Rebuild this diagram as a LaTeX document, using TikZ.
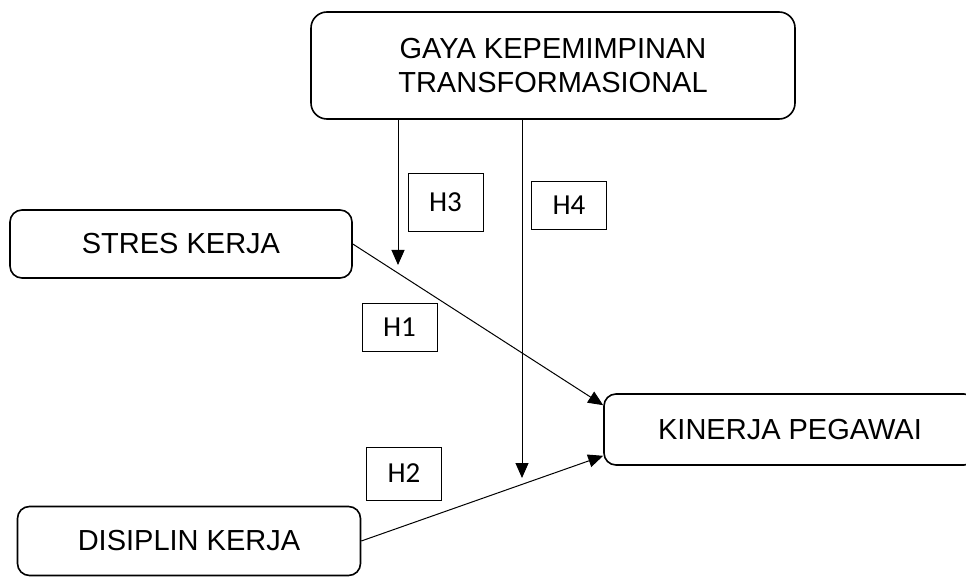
\documentclass[tikz,border=0pt]{standalone}
\usepackage{fontspec}
\setmainfont{Liberation Sans}
\newfontfamily\hypfont{Carlito}
\usetikzlibrary{arrows.meta,positioning}

\begin{document}
\begin{tikzpicture}[x=1pt, y=-1pt, >={Triangle[length=15pt,width=13pt]},
  var/.style={draw, line width=1.6pt, rounded corners=12pt, align=center, inner sep=0pt,
    font=\fontsize{29}{34}\selectfont},
  hyp/.style={draw, line width=0.7pt, inner sep=0pt, minimum width=75pt,
    font=\hypfont\fontsize{29}{32}\selectfont},
  link/.style={->, line width=1pt}]

\useasboundingbox (0,0) rectangle (966,577);

\node [var, rounded corners=16pt, minimum width=484pt, minimum height=107pt] (gaya) at (553,65.5)
  {GAYA KEPEMIMPINAN\\TRANSFORMASIONAL};
\node [var, minimum width=342pt, minimum height=68pt] (stres) at (181,244) {STRES KERJA};
\node [var, minimum width=372pt, minimum height=71pt] (kinerja) at (790,429.5) {KINERJA PEGAWAI};
\node [var, minimum width=343pt, minimum height=69pt] (disiplin) at (189,541) {DISIPLIN KERJA};

% hypothesis labels
\node [hyp, minimum height=58pt] (h3) at (445.5,202) {H3};
\node [hyp, minimum height=48pt] (h4) at (569,205) {H4};
\node [hyp, minimum height=48pt] (h1) at (399.5,327) {H1};
\node [hyp, minimum height=53pt] (h2) at (404,473.5) {H2};

\coordinate (m3) at (398,265);
\coordinate (m4) at (522,478);

\draw [link] (m3 |- gaya.south) -- (m3);
\draw [link] (m4 |- gaya.south) -- (m4);
\draw [link] (stres.east) -- ([yshift=-12pt]kinerja.north west);
\draw [link] (disiplin.east) -- ([yshift=10pt]kinerja.south west);
\end{tikzpicture}
\end{document}
